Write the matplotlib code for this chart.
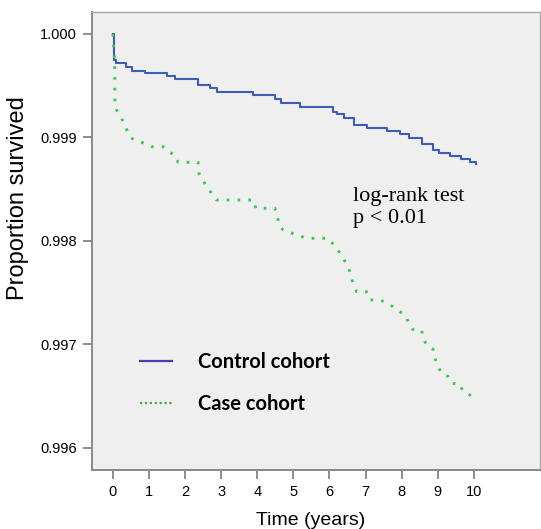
import numpy as np
import matplotlib
matplotlib.use('Agg')
import matplotlib.pyplot as plt
from matplotlib.lines import Line2D

# Kaplan-Meier style curves
control_t = [0, 0.02, 0.04, 0.08, 0.35, 0.52, 0.89, 1.49, 1.72, 2.35, 2.69, 2.87,
             3.89, 4.49, 4.67, 5.18, 6.09, 6.2, 6.4, 6.68, 7.04, 7.59, 7.95, 8.2,
             8.56, 8.86, 9.03, 9.35, 9.65, 9.9, 10.05]
control_s = [1.0, 0.99990, 0.99975, 0.99972, 0.99968, 0.99964, 0.99962, 0.99959,
             0.999565, 0.99951, 0.999475, 0.999443, 0.999411, 0.99937, 0.99933,
             0.999298, 0.999249, 0.999225, 0.999190, 0.999121, 0.999095, 0.999066,
             0.99903, 0.998998, 0.998937, 0.998880, 0.998847, 0.99882, 0.99879,
             0.99876, 0.99874]

case_t = [0, 0.05, 0.055, 0.10, 0.21, 0.33, 0.42, 0.52, 0.75, 1.07, 1.39, 1.53,
          1.72, 1.81, 2.36, 2.38, 2.6, 2.87, 3.89, 3.96, 4.49, 4.63, 4.72, 5.09,
          5.37, 5.96, 6.1, 6.29, 6.52, 6.65, 6.75, 7.02, 7.12, 7.40, 7.58, 7.76,
          7.95, 8.09, 8.18, 8.30, 8.55, 8.6, 8.69, 8.87, 8.92, 9.01, 9.1, 9.29,
          9.38, 9.61, 9.70, 9.89, 10.03]
case_s = [1.0, 0.99972, 0.99936, 0.999266, 0.999201, 0.999121, 0.99904, 0.998992,
          0.99896, 0.998911, 0.998911, 0.998863, 0.99883, 0.99876, 0.99876,
          0.998654, 0.998525, 0.998396, 0.998396, 0.998316, 0.998316, 0.998138,
          0.998106, 0.998058, 0.998026, 0.998026, 0.99797, 0.997884, 0.997752,
          0.997594, 0.99751, 0.99751, 0.99743, 0.99743, 0.997404, 0.997365,
          0.997317, 0.997285, 0.99722, 0.997147, 0.99714, 0.99706, 0.996995,
          0.996954, 0.996867, 0.996786, 0.996722, 0.99669, 0.996625, 0.996618,
          0.996544, 0.996512, 0.996447]

xticks = list(range(0, 11))
yticks = [0.996, 0.997, 0.998, 0.999, 1.000]
labels = ['Control cohort', 'Case cohort']

fig = plt.figure(figsize=(5.41, 5.29), dpi=100)
ax = fig.add_axes([0.170, 0.1115, 0.828, 0.866])
ax.set_facecolor('#efefef')

ax.plot(control_t, control_s, drawstyle='steps-post', color='#3d5cb3', lw=1.5)
ax.plot(case_t, case_s, color='#3cc850', lw=2.1, linestyle=(0, (0.9, 2.8)),
        dash_capstyle='butt')

ax.set_xlim(-0.58, 11.83)
ax.set_ylim(0.995787, 1.000213)
ax.set_xticks(xticks)
ax.set_yticks(yticks)
ax.set_yticklabels(['%.3f' % v for v in yticks])

for side in ['top', 'right']:
    ax.spines[side].set_color('#a8a8a8')
    ax.spines[side].set_linewidth(1.0)
for side in ['left', 'bottom']:
    ax.spines[side].set_color('#8a8a8a')
    ax.spines[side].set_linewidth(1.4)

ax.tick_params(axis='both', direction='out', length=6.5, width=1.2, color='#7a7a7a',
               labelsize=10.5, labelcolor='black', pad=4.5)
for lab in ax.get_xticklabels() + ax.get_yticklabels():
    lab.set_family('Liberation Sans')

ax.set_xlabel('Time (years)', fontsize=14, family='Liberation Sans')
ax.set_ylabel('Proportion survived', fontsize=17, family='Liberation Sans')
ax.xaxis.set_label_coords(0.489, -0.091)
ax.yaxis.set_label_coords(-0.14, 0.594)

ax.text(6.65, 0.99852, 'log-rank test\np < 0.01', family='Liberation Serif',
        fontsize=16, va='top', ha='left', linespacing=1.2)

handles = [Line2D([0], [0], color='#4b3ca6', lw=1.6),
           Line2D([0], [0], color='#4aa83c', lw=1.6, linestyle=(0, (1, 1.2)))]
leg = ax.legend(handles, labels, loc='upper left', bbox_to_anchor=(0.107, 0.257),
                frameon=False, borderpad=0, borderaxespad=0, handlelength=1.6,
                handletextpad=1.3, labelspacing=1.1,
                prop={'family': 'Lato', 'weight': 'bold', 'size': 14.5})

fig.savefig('out.png', dpi=100, facecolor='white')
